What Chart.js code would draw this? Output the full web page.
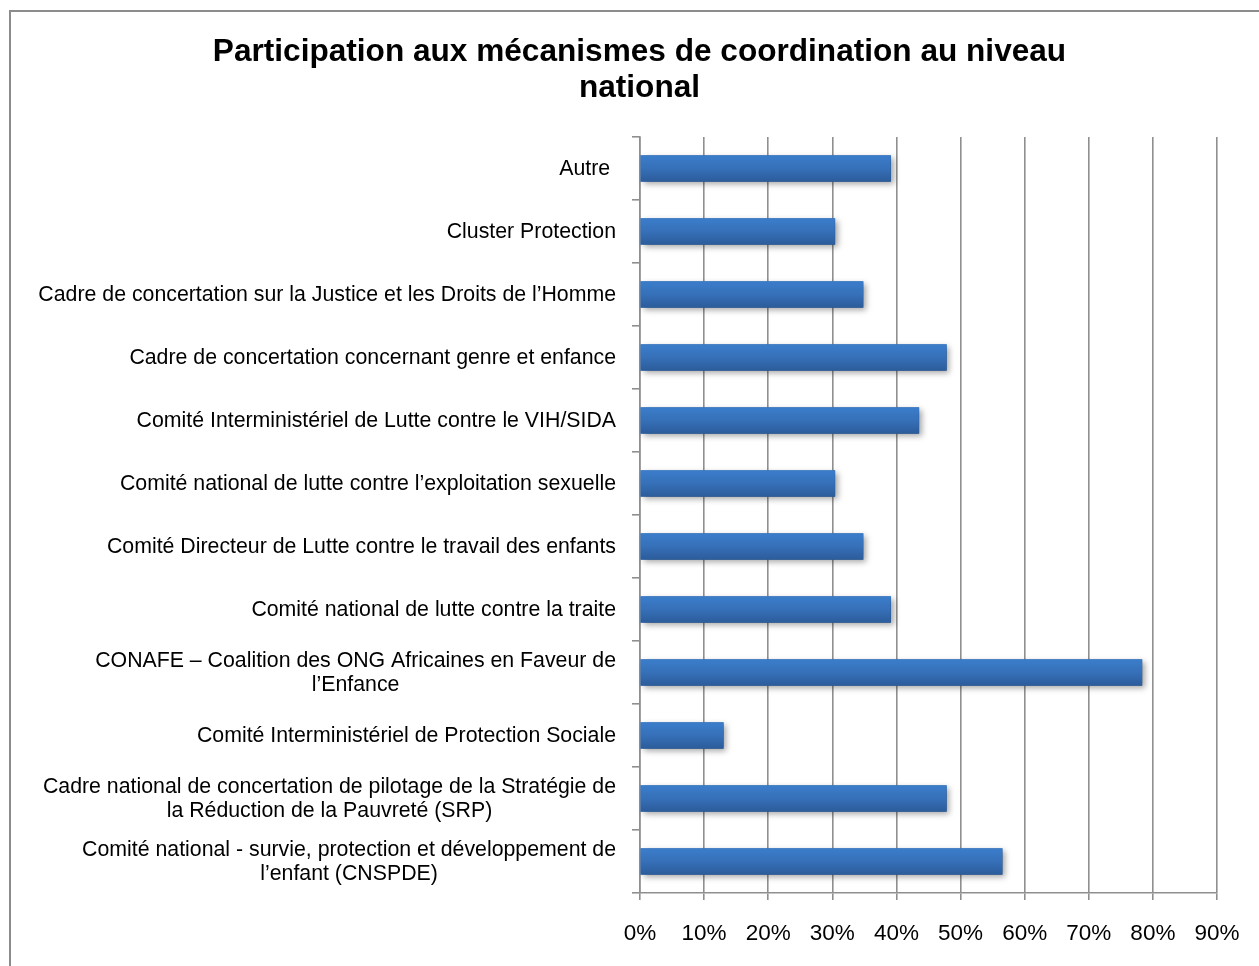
<!DOCTYPE html>
<html lang="fr">
<head>
<meta charset="UTF-8">
<title>Participation aux mécanismes de coordination</title>
<script src="https://cdn.jsdelivr.net/npm/chart.js"></script>
<style>
    html, body {
        margin: 0;
        padding: 0;
        width: 1259px;
        height: 966px;
        overflow: hidden;
        background: #ffffff;
        position: relative;
    }
    .frame {
        position: absolute;
        left: 9px;
        top: 10px;
        width: 1300px;
        height: 1000px;
        border: 2px solid #8c8c8c;
    }
    .chart-box {
        position: absolute;
        left: 10px;
        top: 0;
        width: 1259px;
        height: 966px;
    }
</style>
</head>
<body>
<div class="frame"></div>
<div class="chart-box">
    <canvas id="coordChart"></canvas>
</div>

<script>
// mécanismes (de haut en bas)
const categories = [
    'Autre ',
    'Cluster Protection',
    'Cadre de concertation sur la Justice et les Droits de l’Homme',
    'Cadre de concertation concernant genre et enfance',
    'Comité Interministériel de Lutte contre le VIH/SIDA',
    'Comité national de lutte contre l’exploitation sexuelle',
    'Comité Directeur de Lutte contre le travail des enfants',
    'Comité national de lutte contre la traite',
    ['CONAFE – Coalition des ONG Africaines en Faveur de', 'l’Enfance'],
    'Comité Interministériel de Protection Sociale',
    ['Cadre national de concertation de pilotage de la Stratégie de', 'la Réduction de la Pauvreté (SRP)'],
    ['Comité national - survie, protection et développement de', 'l’enfant (CNSPDE)']
];

// % de participation
const participation = [39.1, 30.4, 34.8, 47.8, 43.5, 30.4, 34.8, 39.1, 78.3, 13.0, 47.8, 56.5];

const xTicks = [0, 10, 20, 30, 40, 50, 60, 70, 80, 90];

const chartTitle = ['Participation aux mécanismes de coordination au niveau', 'national'];

const FONT = "'Liberation Sans', Arial, Helvetica, sans-serif";
const GRID = '#8f8f8f';

// barres avec dégradé + ombre portée
const barStyle = {
    id: 'barStyle',
    afterDatasetsDraw(chart) {
        const ctx = chart.ctx;
        const meta = chart.getDatasetMeta(0);
        meta.data.forEach(bar => {
            const p = bar.getProps(['x', 'y', 'base', 'height'], true);
            const left = Math.min(p.base, p.x);
            const w = Math.abs(p.x - p.base);
            const top = p.y - p.height / 2;
            const g = ctx.createLinearGradient(0, top, 0, top + p.height);
            g.addColorStop(0, '#3b7dcb');
            g.addColorStop(0.5, '#3670b8');
            g.addColorStop(1, '#2c5c9b');
            ctx.save();
            ctx.shadowColor = 'rgba(0,0,0,0.35)';
            ctx.shadowBlur = 6;
            ctx.shadowOffsetX = 3;
            ctx.shadowOffsetY = 3;
            ctx.fillStyle = g;
            ctx.fillRect(left, top, w, p.height);
            ctx.restore();
        });
    }
};

// libellés de l'axe des catégories : bloc aligné à droite, lignes centrées
const categoryLabels = {
    id: 'categoryLabels',
    afterDraw(chart) {
        const ctx = chart.ctx;
        const yScale = chart.scales.y;
        const right = yScale.right - 24;
        const lineH = 24;
        ctx.save();
        ctx.font = '21.3px ' + FONT;
        ctx.fillStyle = '#000000';
        ctx.textAlign = 'center';
        ctx.textBaseline = 'middle';
        categories.forEach((lab, i) => {
            const lines = Array.isArray(lab) ? lab : [lab];
            const maxW = Math.max(...lines.map(l => ctx.measureText(l).width));
            const cx = right - maxW / 2;
            const cy = yScale.getPixelForValue(i) + 1;
            lines.forEach((l, k) => {
                ctx.fillText(l, cx, cy + (k - (lines.length - 1) / 2) * lineH);
            });
        });
        ctx.restore();
    }
};

const ctx = document.getElementById('coordChart').getContext('2d');
new Chart(ctx, {
    type: 'bar',
    data: {
        labels: categories,
        datasets: [{
            data: participation,
            backgroundColor: '#3670b8',
            barThickness: 26
        }]
    },
    options: {
        indexAxis: 'y',
        responsive: true,
        maintainAspectRatio: false,
        animation: false,
        layout: { padding: { left: 52, right: 52, top: 0, bottom: 0 } },
        plugins: {
            legend: { display: false },
            tooltip: { enabled: false },
            title: {
                display: true,
                text: chartTitle,
                color: '#000000',
                font: { family: FONT, size: 31.6, weight: 'bold', lineHeight: 1.15 },
                padding: { top: 34, bottom: 30.3 }
            }
        },
        scales: {
            x: {
                min: 0,
                max: 90,
                afterBuildTicks(scale) {
                    scale.ticks = xTicks.map(v => ({ value: v }));
                },
                afterFit(scale) { scale.height = 73; },
                grid: {
                    color: GRID,
                    lineWidth: 1.6,
                    tickLength: 7,
                    drawTicks: true
                },
                border: { color: GRID, width: 1.6 },
                ticks: {
                    color: '#000000',
                    font: { family: FONT, size: 22.5 },
                    padding: 20,
                    maxRotation: 0,
                    callback: v => v + '%'
                }
            },
            y: {
                afterFit(scale) { scale.width = 578; },
                grid: {
                    drawOnChartArea: false,
                    color: GRID,
                    lineWidth: 1.6,
                    tickLength: 8
                },
                border: { color: GRID, width: 1.6 },
                ticks: {
                    color: 'rgba(0,0,0,0)',
                    font: { family: FONT, size: 20 }
                }
            }
        }
    },
    plugins: [barStyle, categoryLabels]
});
</script>
</body>
</html>
